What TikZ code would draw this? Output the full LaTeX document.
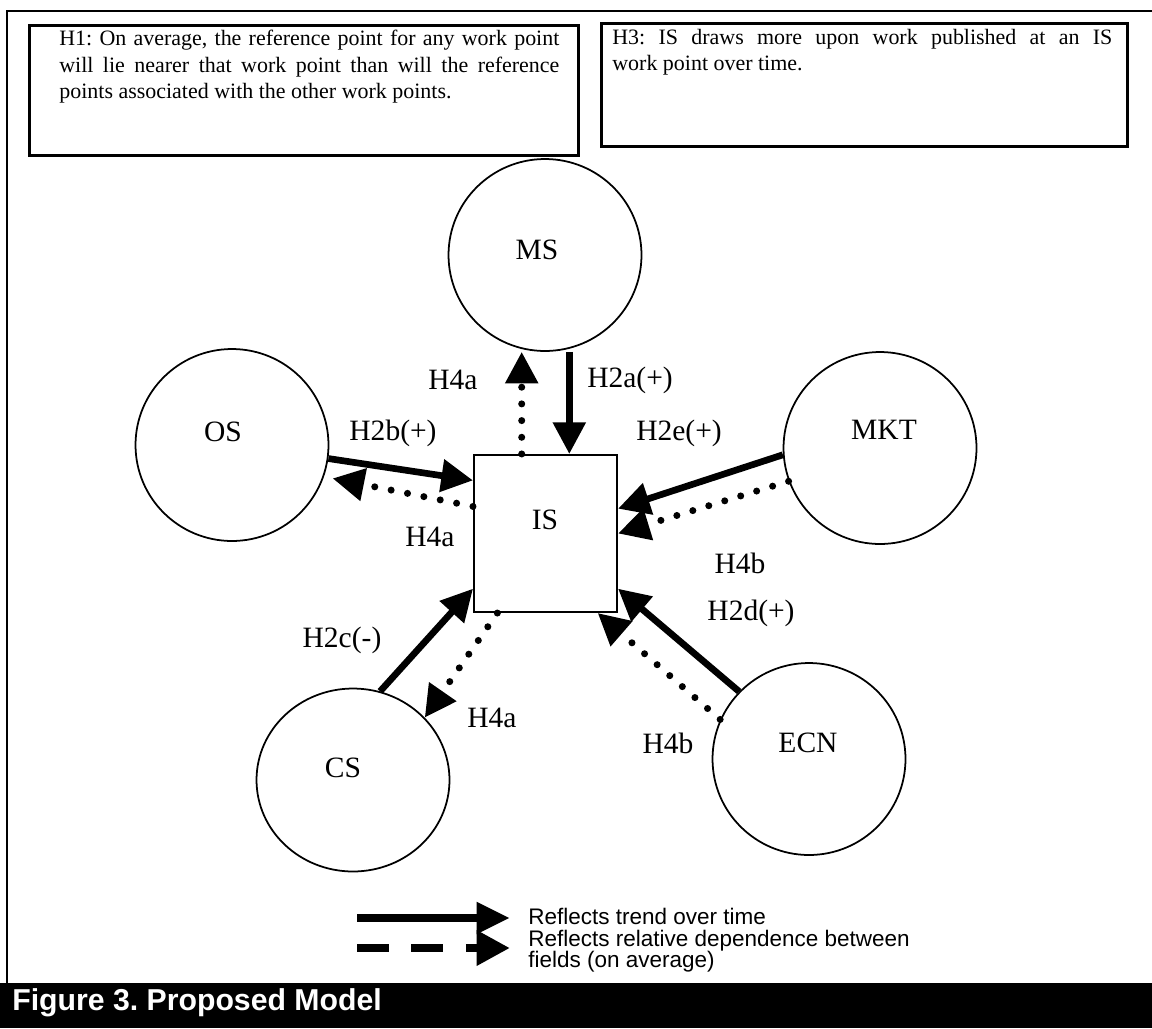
\documentclass[tikz,border=0pt]{standalone}
\usepackage{fontspec}
\setmainfont{Liberation Serif}
\newfontfamily\legendfont{Liberation Sans}
\usetikzlibrary{arrows.meta,calc,shapes.geometric}
\frenchspacing
\tikzset{field/.style={draw,ellipse,line width=1pt,minimum width=3.86cm,
    minimum height=3.84cm,inner sep=0pt},
  hub/.style={draw,rectangle,line width=1.2pt,minimum width=2.86cm,
    minimum height=3.14cm,inner sep=0pt},
  fieldname/.style={inner sep=0pt,font=\fontsize{16.8}{20}\selectfont},
  tag/.style={fieldname},
  hypbox/.style={draw,line width=1.7pt,inner sep=0pt},
  hyptext/.style={anchor=north west,align=justify,text width=284.6pt,
    inner sep=0pt,font=\fontsize{12.5}{15}\selectfont},
  trend/.style={-{Triangle[length=18pt,width=18pt]},line width=3.8pt},
  depend/.style={-{Triangle[length=18pt,width=18pt]},line width=4pt,
    line cap=round,dash pattern=on 0pt off 9.5pt}}

\begin{document}
\begin{tikzpicture}[x=0.02cm,y=-0.02cm]
  \useasboundingbox (0,0) rectangle (1152,1028);
  \draw[line width=1.7pt] (1152,11) -- (7,11) -- (7,983);

  \node[hypbox,minimum width=11cm,minimum height=2.62cm] (h1box) at (304,90.5) {};
  \node[hyptext] (h1) at (59,30) {H1: On average, the reference point for any work point\linebreak
    will lie nearer that work point than will the reference\linebreak
    points associated with the other work points.};
  \node[hypbox,minimum width=10.54cm,minimum height=2.48cm] (h3box) at (864.5,85) {};
  \node[hyptext] (h3) at (612,28.5) {H3: IS draws more upon work published at an IS\linebreak
    work point over time.};

  \node[field] (ms) at (545,255) {};
  \node[field] (os) at (232,445) {};
  \node[field] (mkt) at (880,448) {};
  \node[field,minimum height=3.66cm] (cs) at (353,780) {};
  \node[field] (ecn) at (809,759) {};
  \node[hub] (is) at (545.5,533.5) {};
  \node[fieldname] (msname) at (537,250) {MS};
  \node[fieldname] (osname) at (223,432) {OS};
  \node[fieldname] (mktname) at (884,430) {MKT};
  \node[fieldname] (csname) at (343,768) {CS};
  \node[fieldname] (ecnname) at (808,743) {ECN};
  \node[fieldname] (isname) at (545,520) {IS};

  \coordinate (isTopA) at ($(is.north west)!0.336!(is.north east)$);
  \coordinate (isTopB) at ($(is.north west)!0.664!(is.north east)$);
  \draw[depend] (isTopA) -- (isTopA |- ms.south);
  \draw[trend] (isTopB |- ms.south) -- (isTopB);
  \draw[trend] (os.-8) -- ($(is.north west)!0.166!(is.south west)$);
  \draw[depend,shorten >=5pt] ($(is.north west)!0.33!(is.south west)$) -- (os.-19);
  \draw[trend] (mkt.184) -- ($(is.north east)!0.344!(is.south east)$);
  \draw[depend] (mkt.200) -- (is.east);
  \draw[trend] (cs.73) -- ($(is.north west)!0.847!(is.south west)$);
  \draw[depend] ($(is.south west)!0.168!(is.south east)$) -- (cs.41);
  \draw[trend] (ecn.136) -- ($(is.north east)!0.847!(is.south east)$);
  \draw[depend] (ecn.156) -- ($(is.south west)!0.86!(is.south east)$);

  \node[tag] (h4aMS) at (453,380) {H4a};
  \node[tag] (h2a) at (630,380) {H2a(+)};
  \node[tag] (h2b) at (393,433) {H2b(+)};
  \node[tag] (h2e) at (679,433) {H2e(+)};
  \node[tag] (h4aOS) at (430,537) {H4a};
  \node[tag] (h4bMKT) at (740,563) {H4b};
  \node[tag] (h2d) at (751,613) {H2d(+)};
  \node[tag] (h2c) at (342,640) {H2c(-)};
  \node[tag] (h4aCS) at (492,718) {H4a};
  \node[tag] (h4bECN) at (668,743) {H4b};

  \coordinate (trendA) at (357,918);
  \coordinate (trendB) at (510,918);
  \coordinate (dependA) at (357,948);
  \coordinate (dependB) at (510,948);
  \draw[line width=5pt,-{Triangle[length=19pt,width=17pt]}] (trendA) -- (trendB);
  \draw[line width=5pt,dash pattern=on 18pt off 13pt,
    -{Triangle[length=19pt,width=19pt]}] (dependA) -- (dependB);
  \node[anchor=north west,inner sep=0pt,align=left,
    font=\legendfont\fontsize{12.8}{12.2}\selectfont] (legend) at (528,908)
    {Reflects trend over time\\Reflects relative dependence between\\fields (on average)};

  \fill (0,983) rectangle (1152,1028);
  \node[anchor=base west,inner sep=0pt,text=white,
    font=\legendfont\bfseries\fontsize{17.2}{20}\selectfont] (caption) at (12,1010)
    {Figure 3. Proposed Model};
\end{tikzpicture}
\end{document}
